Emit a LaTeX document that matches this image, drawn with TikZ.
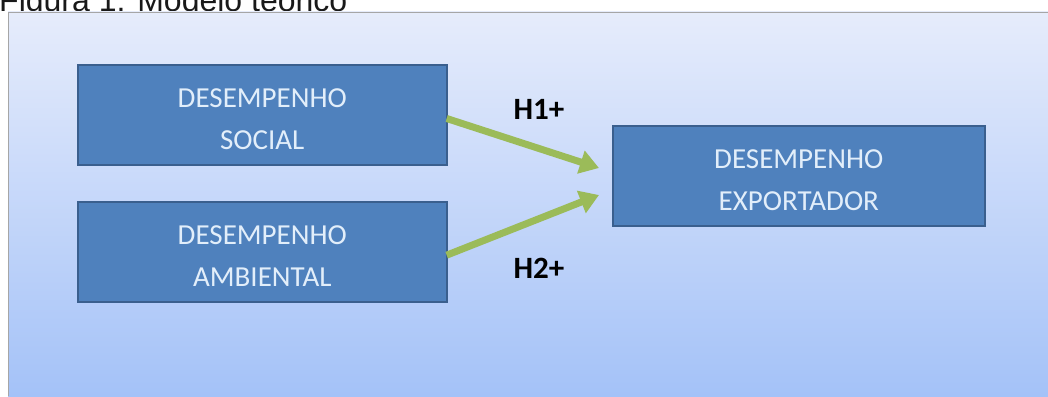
\documentclass[tikz,border=0pt]{standalone}
\usepackage{fontspec}
\setmainfont{Carlito}
\newfontfamily\titlefont{Liberation Sans}
\usetikzlibrary{arrows.meta,positioning}

\definecolor{boxblue}{HTML}{4F81BD}
\definecolor{boxline}{HTML}{3A5F8E}
\definecolor{boxtext}{HTML}{E2EEFA}
\definecolor{arrowgreen}{HTML}{9BBB59}
\definecolor{panetop}{HTML}{E6ECFB}
\definecolor{panebot}{HTML}{A4C2F8}

\begin{document}
\begin{tikzpicture}[
x=1pt, y=-1pt,
box/.style={
    draw=boxline, line width=1.6pt, fill=boxblue,
    minimum width=369pt, minimum height=100pt,
    text=boxtext, align=center, text height=70pt,
    font=\fontsize{29}{42}\selectfont,
    anchor=north west, inner sep=0pt
},
link/.style={
    draw=arrowgreen, line width=7pt,
    -{Triangle[length=19pt,width=23pt]}, shorten <=-1pt
},
hyp/.style={font=\bfseries\fontsize{31}{36}\selectfont, text=black},
]

\clip (0,0) rectangle (1048,396);

% title, cut by the panel
\node[anchor=base west, inner sep=0pt, font=\titlefont\fontsize{32}{38}\selectfont,
      text=black!90] (title) at (-1,12) {Figura 1: Modelo teórico};

% panel
\shade[top color=panetop, bottom color=panebot] (8,12) rectangle (1048,396);
\draw[gray!70, line width=0.8pt] (8,396) -- (8,12) -- (1048,12);

\node[box] (social) at (77,64) {DESEMPENHO\\SOCIAL};
\node[box] (ambiental) at (77,201) {DESEMPENHO\\AMBIENTAL};
\node[box, minimum width=372pt] (exportador) at (612,125) {DESEMPENHO\\EXPORTADOR};

\coordinate (in1) at (599,168);
\coordinate (in2) at (599,195);

\draw[link] ([yshift=-4pt]social.east) -- (in1);
\draw[link] ([yshift=-3pt]ambiental.east) -- (in2);

\node[hyp] (h1) at (539,109) {H1+};
\node[hyp] (h2) at (539,268) {H2+};

\end{tikzpicture}
\end{document}
